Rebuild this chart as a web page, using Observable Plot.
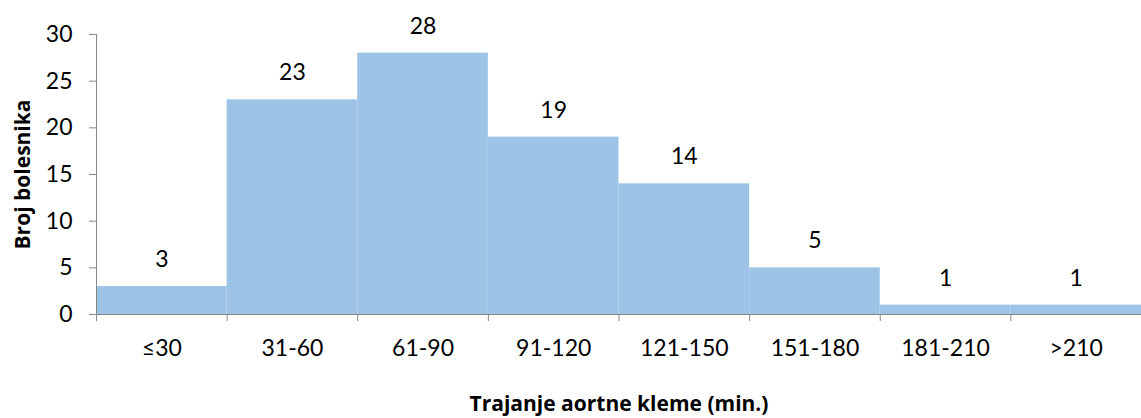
<!DOCTYPE html>
<html>
<head>
<meta charset="utf-8">
<script src="https://cdn.jsdelivr.net/npm/d3@7"></script>
<script src="https://cdn.jsdelivr.net/npm/@observablehq/plot@0.6"></script>
<style>
  html, body { margin: 0; padding: 0; background: #fff; }
  svg { font-family: Lato, "Open Sans", sans-serif; }
</style>
</head>
<body>
<div id="chart"></div>
<script>
const categories = ["≤30", "31-60", "61-90", "91-120", "121-150", "151-180", "181-210", ">210"];
const counts = [3, 23, 28, 19, 14, 5, 1, 1];
const yTicks = [0, 5, 10, 15, 20, 25, 30];
const xTitle = "Trajanje aortne kleme (min.)";
const yTitle = "Broj bolesnika";

const data = categories.map((c, i) => ({ cat: c, i, n: counts[i] }));
const boundaries = d3.range(categories.length + 1);
const centers = categories.map((c, i) => i + 0.5);

const gray = "#868686";
const font = 23;
const titleFont = "'Open Sans', Lato, sans-serif";

const chart = Plot.plot({
  width: 1141,
  height: 418,
  marginLeft: 96,
  marginRight: 0,
  marginTop: 34,
  marginBottom: 104,
  style: { fontFamily: "Lato, 'Open Sans', sans-serif", fontSize: font + "px", color: "#000", background: "#fff" },
  x: { type: "linear", domain: [0, categories.length] },
  y: { domain: [0, 30] },
  marks: [
    Plot.rectY(data, { x1: "i", x2: d => d.i + 1, y: "n", fill: "#9DC3E6" }),
    Plot.text(data, { x: d => d.i + 0.5, y: "n", text: d => String(d.n), dy: -27, lineAnchor: "middle", fontSize: font, fill: "#000" }),
    Plot.ruleX([0], { stroke: gray, strokeWidth: 1 }),
    Plot.ruleY([0], { stroke: gray, strokeWidth: 1 }),
    Plot.axisY({ ticks: yTicks, tickSize: 7, tickPadding: 17, stroke: gray, label: null, fontSize: font, fill: "#000" }),
    Plot.axisX({ ticks: boundaries, tickSize: 7, tickFormat: () => "", stroke: gray, label: null }),
    Plot.axisX({ ticks: centers, tickSize: 0, tickPadding: 25, tickFormat: (d) => categories[Math.floor(d)], label: null, fontSize: font, fill: "#000" }),
    Plot.text([yTitle], { frameAnchor: "left", dx: -73, rotate: -90, textAnchor: "middle", lineAnchor: "middle", fontWeight: "bold", fontSize: 21, fontFamily: titleFont, fill: "#000" }),
    Plot.text([xTitle], { frameAnchor: "bottom", dy: 90, textAnchor: "middle", lineAnchor: "middle", fontWeight: "bold", fontSize: 21, fontFamily: titleFont, fill: "#000" })
  ]
});
document.getElementById("chart").appendChild(chart);
</script>
</body>
</html>
